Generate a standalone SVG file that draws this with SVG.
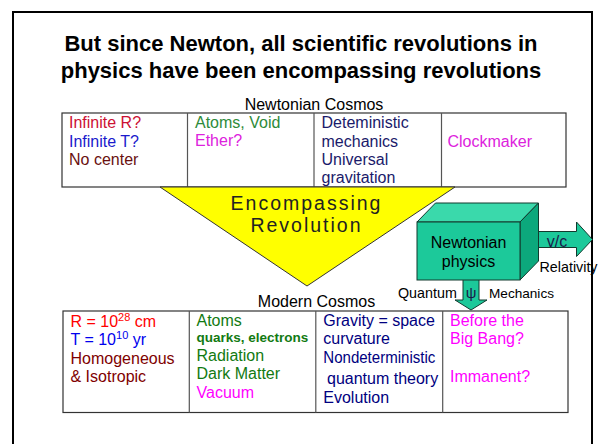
<svg xmlns="http://www.w3.org/2000/svg" width="602" height="444" viewBox="0 0 602 444">
<style>
text{font-family:"Liberation Sans",Arial,sans-serif;}
.t{font-size:16px;}
.title{font-size:22px;font-weight:bold;fill:#000;text-anchor:middle;}
.tbl{fill:#fff;stroke:#333;stroke-width:1.2;}
.div{stroke:#555;stroke-width:1.2;}
.teal{fill:#1cc99a;stroke:#123a2e;stroke-width:1;}
.red{fill:#cc1133;}.blue{fill:#1a1acc;}.brown{fill:#6a1010;}
.green{fill:#2e8b3a;}.mag{fill:#dd22dd;}.navy{fill:#1a1a6a;}
.red2{fill:#ff0000;}.blue2{fill:#0000ee;}.brown2{fill:#800000;}
.green2{fill:#127a12;}.mag2{fill:#ff00ff;}.navy2{fill:#000080;}
</style>
<rect x="0" y="0" width="602" height="444" fill="#fff"/>
<rect x="13" y="12" width="579" height="450" fill="none" stroke="#000" stroke-width="2"/>

<g id="title">
<text class="title" x="301" y="51">But since Newton, all scientific revolutions in</text>
<text class="title" x="301" y="77.5">physics have been encompassing revolutions</text>
</g>

<g id="newtonian-cosmos">
<text class="t" x="314" y="109.5" text-anchor="middle" fill="#000">Newtonian Cosmos</text>
<rect class="tbl" x="62" y="113" width="504" height="74"/>
<line class="div" x1="187.5" y1="113" x2="187.5" y2="187"/>
<line class="div" x1="314" y1="113" x2="314" y2="187"/>
<line class="div" x1="441.5" y1="113" x2="441.5" y2="187"/>
<text class="t red" x="69" y="128">Infinite R?</text>
<text class="t blue" x="69" y="146.5">Infinite T?</text>
<text class="t brown" x="69" y="165">No center</text>
<text class="t green" x="195" y="127.5">Atoms, Void</text>
<text class="t mag" x="195" y="146">Ether?</text>
<text class="t navy" x="321.5" y="128.3">Deteministic</text>
<text class="t navy" x="321.5" y="146.7">mechanics</text>
<text class="t navy" x="321.5" y="165">Universal</text>
<text class="t navy" x="321.5" y="183.3">gravitation</text>
<text class="t mag" x="447.5" y="147.3">Clockmaker</text>
</g>

<g id="encompassing-revolution">
<polygon points="160,187 455,187 307,286" fill="#ffff00" stroke="#333" stroke-width="1"/>
<text x="306.5" y="209.5" font-size="19.5" letter-spacing="2" text-anchor="middle" fill="#222">Encompassing</text>
<text x="306.5" y="231.5" font-size="19.5" letter-spacing="2" text-anchor="middle" fill="#222">Revolution</text>
</g>

<g id="connectors">
<g id="relativity-arrow">
<polygon class="teal" points="525,231.5 576.5,231.5 576.5,222 592.5,239.5 576.5,256.5 576.5,247.5 525,247.5"/>
<text x="557" y="246.5" font-family="'Liberation Serif',serif" font-size="16" text-anchor="middle" fill="#1a1a4a">v/c</text>
<text x="539.5" y="271.5" font-size="14.3" fill="#000">Relativity</text>
</g>
<g id="quantum-arrow">
<polygon class="teal" points="463,276 479,276 479,300 487,300 471,310 455,300 463,300"/>
<text x="471" y="297.5" font-family="'Liberation Serif',serif" font-size="15" text-anchor="middle" fill="#1a1a4a">ψ</text>
<text x="398" y="298.3" font-size="14.3" fill="#000">Quantum</text>
<text x="489" y="298.3" font-size="13.6" fill="#000">Mechanics</text>
</g>
</g>

<g id="newtonian-physics">
<polygon points="417,222 435.5,203 538.5,203 520,222" fill="#3ad9ab" stroke="#123a2e" stroke-width="1"/>
<polygon points="520,222 538.5,203 538.5,261 520,280" fill="#0ca87c" stroke="#123a2e" stroke-width="1"/>
<rect class="teal" x="417" y="222" width="103" height="58"/>
<text class="t" x="468.5" y="248.3" text-anchor="middle" fill="#000">Newtonian</text>
<text class="t" x="468.5" y="266.5" text-anchor="middle" fill="#000">physics</text>
</g>

<g id="modern-cosmos">
<text class="t" x="316.5" y="306.5" text-anchor="middle" fill="#000">Modern Cosmos</text>
<rect class="tbl" x="63" y="311" width="505" height="101.5"/>
<line class="div" x1="189.3" y1="311" x2="189.3" y2="412.5"/>
<line class="div" x1="315.8" y1="311" x2="315.8" y2="412.5"/>
<line class="div" x1="442.7" y1="311" x2="442.7" y2="412.5"/>
<text class="t red2" x="70.5" y="327.3">R = 10<tspan font-size="11" dy="-6">28</tspan><tspan dy="6"> cm</tspan></text>
<text class="t blue2" x="70.5" y="345">T = 10<tspan font-size="11" dy="-6">10</tspan><tspan dy="6"> yr</tspan></text>
<text class="t brown2" x="70.5" y="364">Homogeneous</text>
<text class="t brown2" x="70.5" y="381.7">&amp; Isotropic</text>
<text class="t green2" x="196.5" y="325.7">Atoms</text>
<text class="green2" x="196.5" y="341.7" font-size="13.5" font-weight="bold">quarks, electrons</text>
<text class="t green2" x="196.5" y="361">Radiation</text>
<text class="t green2" x="196.5" y="379.3">Dark Matter</text>
<text class="t mag2" x="196.5" y="397.7">Vacuum</text>
<text class="t navy2" x="323.3" y="325.7">Gravity = space</text>
<text class="t navy2" x="323.3" y="344.3">curvature</text>
<text class="t navy2" x="323.3" y="363.3" textLength="112" lengthAdjust="spacingAndGlyphs">Nondeterministic</text>
<text class="t navy2" x="327" y="383.5">quantum theory</text>
<text class="t navy2" x="323.3" y="403">Evolution</text>
<text class="t mag2" x="450" y="325.7">Before the</text>
<text class="t mag2" x="450" y="344.3">Big Bang?</text>
<text class="t mag2" x="450" y="381.7">Immanent?</text>
</g>
</svg>
